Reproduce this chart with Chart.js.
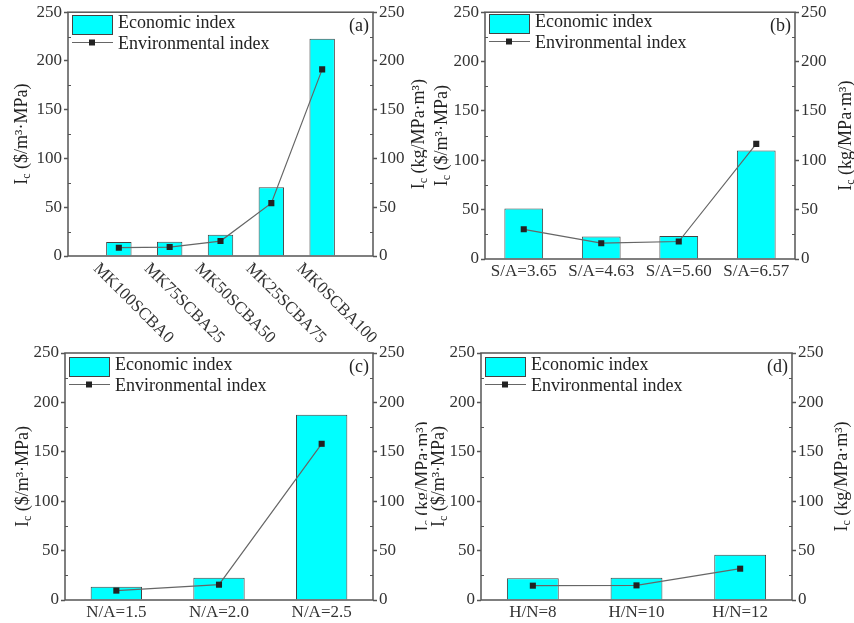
<!DOCTYPE html>
<html>
<head>
<meta charset="utf-8">
<script src="https://cdn.jsdelivr.net/npm/chart.js@4.4.1/dist/chart.umd.min.js"></script>
<style>
  html, body { margin: 0; padding: 0; background: #fff; }
  #wrap { position: relative; width: 854px; height: 623px; overflow: hidden; }
  #wrap canvas { position: absolute; }
</style>
</head>
<body>
<div id="wrap">
  <canvas id="pa" width="427" height="350" style="left:0;top:0"></canvas>
  <canvas id="pb" width="427" height="300" style="left:427px;top:0"></canvas>
  <canvas id="pc" width="427" height="293" style="left:0;top:330px"></canvas>
  <canvas id="pd" width="427" height="293" style="left:427px;top:330px"></canvas>
</div>
<script>
// --- values ---
const mixLabels = ['MK100SCBA0', 'MK75SCBA25', 'MK50SCBA50', 'MK25SCBA75', 'MK0SCBA100'];
const mixEconomic = [14.3, 14.6, 21.8, 70.5, 222.8];
const mixEnvironmental = [8.5, 9.2, 15.3, 54.2, 191.4];

const saLabels = ['S/A=3.65', 'S/A=4.63', 'S/A=5.60', 'S/A=6.57'];
const saEconomic = [51.1, 22.7, 23.4, 110.0];
const saEnvironmental = [30.1, 16.0, 17.7, 116.6];

const naLabels = ['N/A=1.5', 'N/A=2.0', 'N/A=2.5'];
const naEconomic = [13.5, 22.6, 187.5];
const naEnvironmental = [9.5, 15.5, 158.1];

const hnLabels = ['H/N=8', 'H/N=10', 'H/N=12'];
const hnEconomic = [21.9, 22.6, 45.8];
const hnEnvironmental = [14.5, 14.8, 31.7];

const yTicks = [0, 50, 100, 150, 200, 250];
const yMinorTicks = [25, 75, 125, 175, 225];

const FONT = '"Liberation Serif", "Times New Roman", serif';
const AXIS_COLOR = '#555';
const TEXT_COLOR = '#222';

// legend symbols (drawn once, used as point styles by the legend)
function makeIcon(w, h, draw) {
  const c = document.createElement('canvas');
  c.width = w; c.height = h;
  draw(c.getContext('2d'));
  return c;
}
const barIcon = makeIcon(46, 24, g => {
  g.fillStyle = '#00ffff';
  g.fillRect(5, 4, 41, 20);
  g.strokeStyle = '#444';
  g.lineWidth = 1;
  g.strokeRect(5.5, 4.5, 40, 19);
});
const lineIcon = makeIcon(46, 12, g => {
  g.strokeStyle = '#666';
  g.lineWidth = 1.2;
  g.beginPath(); g.moveTo(5, 4.5); g.lineTo(46, 4.5); g.stroke();
  g.fillStyle = '#222';
  g.fillRect(22, 1.5, 6, 6);
});

// I with subscript c, then the unit
function drawAxisTitle(ctx, unit, cx, cy) {
  const parts = [{ t: 'I' }, { t: 'c', sub: true }, { t: ' ' + unit }];
  const big = '18px ' + FONT, small = '12px ' + FONT;
  ctx.save();
  ctx.translate(cx, cy);
  ctx.rotate(-Math.PI / 2);
  ctx.fillStyle = TEXT_COLOR;
  ctx.textBaseline = 'middle';
  ctx.textAlign = 'left';
  let total = 0;
  parts.forEach(p => { ctx.font = p.sub ? small : big; p.w = ctx.measureText(p.t).width; total += p.w; });
  let x = -total / 2;
  parts.forEach(p => {
    ctx.font = p.sub ? small : big;
    ctx.fillText(p.t, x, p.sub ? 5 : 0);
    x += p.w;
  });
  ctx.restore();
}

// frame, minor ticks, panel tag, axis titles, rotated category labels
const deco = {
  id: 'deco',
  afterDraw(chart, args, opts) {
    const { ctx, chartArea: a, scales } = chart;
    ctx.save();
    ctx.strokeStyle = AXIS_COLOR;
    ctx.lineWidth = 1.5;
    ctx.strokeRect(a.left, a.top, a.right - a.left, a.bottom - a.top);

    ctx.lineWidth = 1;
    yMinorTicks.forEach(v => {
      const py = Math.round(scales.y.getPixelForValue(v)) + 0.5;
      ctx.beginPath();
      ctx.moveTo(a.left, py); ctx.lineTo(a.left + 3, py);
      ctx.moveTo(a.right, py); ctx.lineTo(a.right - 3, py);
      ctx.stroke();
    });

    ctx.fillStyle = TEXT_COLOR;
    ctx.font = '18px ' + FONT;
    ctx.textAlign = 'right';
    ctx.textBaseline = 'middle';
    ctx.fillText(opts.tag, a.right - 4, a.top + 14);

    if (opts.rotated) {
      ctx.fillStyle = '#333';
      ctx.font = '17px ' + FONT;
      ctx.textAlign = 'left';
      opts.rotated.forEach((lab, i) => {
        const px = scales.x.getPixelForValue(i + 1);
        ctx.save();
        ctx.translate(px - 23, a.bottom + 10);
        ctx.rotate(Math.PI / 4);
        ctx.fillText(lab, 0, 0);
        ctx.restore();
      });
    }
    ctx.restore();

    const cy = (a.top + a.bottom) / 2;
    drawAxisTitle(ctx, '($/m\u00B3\u00B7MPa)', a.left + opts.leftDx, cy);
    drawAxisTitle(ctx, '(kg/MPa\u00B7m\u00B3)', a.right + opts.rightDx, cy);
  }
};

function panel(id, cfg) {
  const tickFont = { family: FONT, size: 17 };
  const yAxis = (pos, width) => ({
    position: pos,
    min: 0,
    max: 250,
    grid: { drawOnChartArea: false, tickLength: 4, tickColor: AXIS_COLOR, tickWidth: 1.5 },
    border: { display: false },
    afterBuildTicks: s => { s.ticks = yTicks.map(v => ({ value: v })); },
    ticks: { padding: 2, color: '#333', font: tickFont },
    afterFit: s => { s.width = width; }
  });

  return new Chart(document.getElementById(id), {
    type: 'bar',
    data: {
      datasets: [
        {
          type: 'bar',
          label: 'Economic index',
          data: cfg.economic.map((v, i) => ({ x: i + 1, y: v })),
          backgroundColor: '#00ffff',
          borderColor: '#444',
          borderWidth: 1,
          barPercentage: 0.5,
          categoryPercentage: 1,
          yAxisID: 'y',
          order: 1
        },
        {
          type: 'line',
          label: 'Environmental index',
          data: cfg.environmental.map((v, i) => ({ x: i + 1, y: v })),
          borderColor: '#666',
          borderWidth: 1.2,
          tension: 0,
          pointStyle: 'rect',
          pointRadius: 4.3,
          pointBackgroundColor: '#222',
          pointBorderColor: '#222',
          pointBorderWidth: 0,
          yAxisID: 'y2',
          order: 0
        }
      ]
    },
    options: {
      responsive: false,
      animation: false,
      events: [],
      layout: { padding: { top: cfg.top, left: 0, right: 0, bottom: 0 } },
      scales: {
        x: {
          type: 'linear',
          min: cfg.xMin,
          max: cfg.xMax,
          offset: false,
          grid: { display: false, drawTicks: false, offset: false },
          border: { display: false },
          afterBuildTicks: s => { s.ticks = cfg.labels.map((_, i) => ({ value: i + 1 })); },
          ticks: {
            display: !cfg.rotated,
            autoSkip: false,
            maxRotation: 0,
            padding: 2,
            color: '#333',
            font: tickFont,
            callback: v => cfg.labels[v - 1]
          },
          afterFit: s => { s.height = cfg.xHeight; }
        },
        y: yAxis('left', cfg.leftW),
        y2: yAxis('right', cfg.rightW)
      },
      plugins: {
        tooltip: { enabled: false },
        legend: {
          position: 'chartArea',
          align: 'start',
          // the chartArea legend starts at the canvas top; an empty title pushes it into the plot
          title: { display: true, text: '', font: { size: 1, lineHeight: 1 }, padding: { top: cfg.top - 1, bottom: 0 } },
          labels: {
            usePointStyle: true,
            pointStyleWidth: 38,
            padding: 3,
            color: TEXT_COLOR,
            font: { family: FONT, size: 18 },
            generateLabels(chart) {
              const items = Chart.defaults.plugins.legend.labels.generateLabels(chart);
              items.sort((p, q) => p.datasetIndex - q.datasetIndex);
              items.forEach(it => { it.pointStyle = it.datasetIndex === 0 ? barIcon : lineIcon; });
              return items;
            }
          }
        },
        deco: {
          tag: cfg.tag,
          rotated: cfg.rotated ? cfg.labels : null,
          leftDx: cfg.leftDx,
          rightDx: cfg.rightDx
        }
      }
    },
    plugins: [deco]
  });
}

panel('pa', {
  labels: mixLabels, economic: mixEconomic, environmental: mixEnvironmental,
  xMin: 0, xMax: 6, top: 11, xHeight: 94, leftW: 68, rightW: 54,
  rotated: true, tag: '(a)', leftDx: -46, rightDx: 46
});
panel('pb', {
  labels: saLabels, economic: saEconomic, environmental: saEnvironmental,
  xMin: 0.5, xMax: 4.5, top: 10, xHeight: 41, leftW: 58, rightW: 59,
  tag: '(b)', leftDx: -43, rightDx: 51
});
panel('pc', {
  labels: naLabels, economic: naEconomic, environmental: naEnvironmental,
  xMin: 0.5, xMax: 3.5, top: 23, xHeight: 23, leftW: 65, rightW: 54,
  tag: '(c)', leftDx: -42, rightDx: 50
});
panel('pd', {
  labels: hnLabels, economic: hnEconomic, environmental: hnEnvironmental,
  xMin: 0.5, xMax: 3.5, top: 23, xHeight: 23, leftW: 54, rightW: 62,
  tag: '(d)', leftDx: -42, rightDx: 50
});
</script>
</body>
</html>
